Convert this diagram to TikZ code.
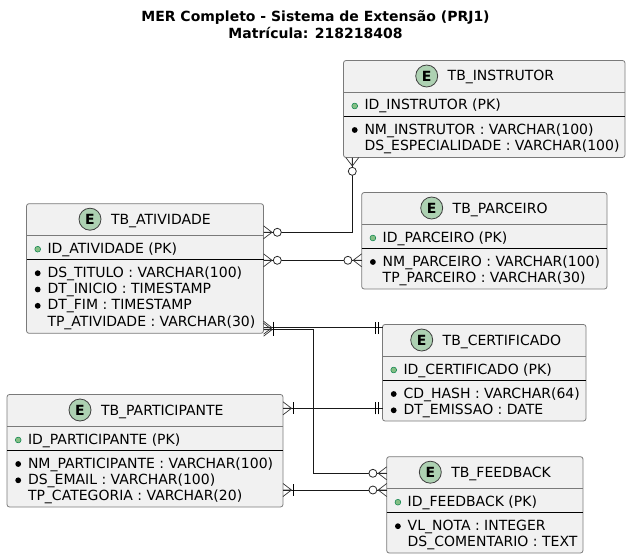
\documentclass[tikz,border=0pt]{standalone}
\usepackage{fontspec}
\setmainfont{DejaVu Sans}
\usetikzlibrary{calc}
\definecolor{entfill}{HTML}{F1F1F1}
\definecolor{entline}{HTML}{7A7A7A}
\definecolor{spot}{HTML}{ADD1B2}
\definecolor{pkfill}{HTML}{84BE84}
\definecolor{pkline}{HTML}{038048}
\tikzset{
  x=1pt,y=-1pt,
  entitybox/.style={draw=entline,fill=entfill,line width=0.8pt,rounded corners=2.5pt,inner sep=0pt,outer sep=0pt,anchor=north west},
  txt/.style={inner sep=0pt,outer sep=0pt,anchor=base west,font=\fontsize{14}{16}\selectfont,text=black},
  ttl/.style={inner sep=0pt,outer sep=0pt,anchor=base,font=\fontsize{14}{16}\selectfont\bfseries,text=black},
  spotc/.style={circle,draw=black!75,fill=spot,line width=0.8pt,minimum size=22pt,inner sep=0pt,outer sep=0pt,font=\fontsize{14}{16}\selectfont\bfseries},
  conn/.style={draw=black!90,line width=0.9pt},
  mark/.style={},
  crowline/.style={draw=black!80,line width=0.7pt},
}
% name, x0, y0, x1, y1, spot x, title
\newcommand\entity[7]{%
  \node[entitybox,minimum width=#4-#2,minimum height=#5-#3] (#1) at (#2,#3) {};
  \draw[entline,line width=0.8pt] ($(#1.north west)+(0,31.5)$) -- ($(#1.north east)+(0,31.5)$);
  \draw[black,line width=0.9pt] ($(#1.north west)+(0,56)$) -- ($(#1.north east)+(0,56)$);
  \node[spotc] (#1-spot) at (#6,#3+15.5) {E};
  \node[txt] (#1-title) at (#6+21,#3+20.5) {#7};
}
% entity, row id, y offset of baseline, bullet kind (0 none,1 pk,2 mandatory), text
\newcommand\attr[5]{%
  \node[txt] (#1-#2) at ($(#1.north west)+(21,#3)$) {#5};
  \ifcase#4\relax
  \or \fill[pkfill,draw=pkline,line width=0.5pt] ($(#1.north west)+(11.2,#3-4)$) circle (2.9);
  \or \fill[black] ($(#1.north west)+(11.2,#3-4)$) circle (2.9);
  \fi
}
% end marks at a coordinate; angle gives the direction out of the box
\newcommand\crowmark[2]{\begin{scope}[shift={(#1)},rotate=#2]
  \draw[crowline] (0,-6.5) -- (8.5,0) -- (0,6.5) (0,0) -- (8.5,0);
\end{scope}}
\newcommand\zeromany[2]{\crowmark{#1}{#2}\begin{scope}[shift={(#1)},rotate=#2]
  \filldraw[fill=white,draw=black!85,line width=0.8pt] (13.8,0) circle (4);
\end{scope}}
\newcommand\onemany[2]{\crowmark{#1}{#2}\begin{scope}[shift={(#1)},rotate=#2]
  \draw[black,line width=0.8pt] (10,-6) -- (10,6);
\end{scope}}
\newcommand\exactone[2]{\begin{scope}[shift={(#1)},rotate=#2]
  \draw[black,line width=0.8pt] (4,-6) -- (4,6) (7.5,-6) -- (7.5,6);
\end{scope}}
\begin{document}
\begin{tikzpicture}
\useasboundingbox (0,0) rectangle (631,559);
\node[ttl] (title1) at (315.5,22) {MER Completo - Sistema de Extensão (PRJ1)};
\node[ttl] (title2) at (315.5,39) {Matrícula: 218218408};

\entity{ins}{343.5}{60.5}{625}{157.5}{426.7}{TB\_INSTRUTOR}
\attr{ins}{a}{49.5}{1}{ID\_INSTRUTOR (PK)}
\attr{ins}{b}{73.5}{2}{NM\_INSTRUTOR : VARCHAR(100)}
\attr{ins}{c}{89.8}{0}{DS\_ESPECIALIDADE : VARCHAR(100)}

\entity{par}{361.7}{192.5}{607}{289}{431.7}{TB\_PARCEIRO}
\attr{par}{a}{49.5}{1}{ID\_PARCEIRO (PK)}
\attr{par}{b}{73.5}{2}{NM\_PARCEIRO : VARCHAR(100)}
\attr{par}{c}{89.8}{0}{TP\_PARCEIRO : VARCHAR(30)}

\entity{ati}{26.5}{203.7}{263.5}{333.3}{90}{TB\_ATIVIDADE}
\attr{ati}{a}{49.5}{1}{ID\_ATIVIDADE (PK)}
\attr{ati}{b}{73.5}{2}{DS\_TITULO : VARCHAR(100)}
\attr{ati}{c}{89.8}{2}{DT\_INICIO : TIMESTAMP}
\attr{ati}{d}{106.1}{2}{DT\_FIM : TIMESTAMP}
\attr{ati}{e}{122.4}{0}{TP\_ATIVIDADE : VARCHAR(30)}

\entity{cer}{382.5}{324.5}{586}{421}{421.7}{TB\_CERTIFICADO}
\attr{cer}{a}{49.5}{1}{ID\_CERTIFICADO (PK)}
\attr{cer}{b}{73.5}{2}{CD\_HASH : VARCHAR(64)}
\attr{cer}{c}{89.8}{2}{DT\_EMISSAO : DATE}

\entity{pat}{7}{394.5}{283}{507}{80}{TB\_PARTICIPANTE}
\attr{pat}{a}{49.5}{1}{ID\_PARTICIPANTE (PK)}
\attr{pat}{b}{73.5}{2}{NM\_PARTICIPANTE : VARCHAR(100)}
\attr{pat}{c}{89.8}{2}{DS\_EMAIL : VARCHAR(100)}
\attr{pat}{d}{106.1}{0}{TP\_CATEGORIA : VARCHAR(20)}

\entity{fee}{386.7}{456.7}{583}{553}{430.3}{TB\_FEEDBACK}
\attr{fee}{a}{49.5}{1}{ID\_FEEDBACK (PK)}
\attr{fee}{b}{73.5}{2}{VL\_NOTA : INTEGER}
\attr{fee}{c}{89.8}{0}{DS\_COMENTARIO : TEXT}

% connector end points on the box borders
\coordinate (ati1) at (ati.east |- 0,232.3);
\coordinate (ins1) at (ins.south -| 352.3,0);
\coordinate (ati2) at (ati.east |- 0,260.3);
\coordinate (par1) at (par.west |- 0,260.3);
\coordinate (ati3) at (ati.east |- 0,327.7);
\coordinate (cer1) at (cer.west |- 0,327.7);
\coordinate (ati4) at (ati.east |- 0,329.7);
\coordinate (fee1) at (fee.west |- 0,473.3);
\coordinate (pat1) at (pat.east |- 0,408.3);
\coordinate (cer2) at (cer.west |- 0,408.3);
\coordinate (pat2) at (pat.east |- 0,490);
\coordinate (fee2) at (fee.west |- 0,490);

\draw[conn] (ati1) -| (ins1);
\draw[conn] (ati2) -- (par1);
\draw[conn] (ati3) -- (cer1);
\draw[conn] (ati4) -| (313.3,473.3) -- (fee1);
\draw[conn] (pat1) -- (cer2);
\draw[conn] (pat2) -- (fee2);

\zeromany{ati1}{0}
\zeromany{ins1}{-90}
\zeromany{ati2}{0}
\zeromany{par1}{180}
\onemany{ati3}{0}
\exactone{cer1}{180}
\onemany{ati4}{0}
\zeromany{fee1}{180}
\onemany{pat1}{0}
\exactone{cer2}{180}
\onemany{pat2}{0}
\zeromany{fee2}{180}
\end{tikzpicture}
\end{document}
